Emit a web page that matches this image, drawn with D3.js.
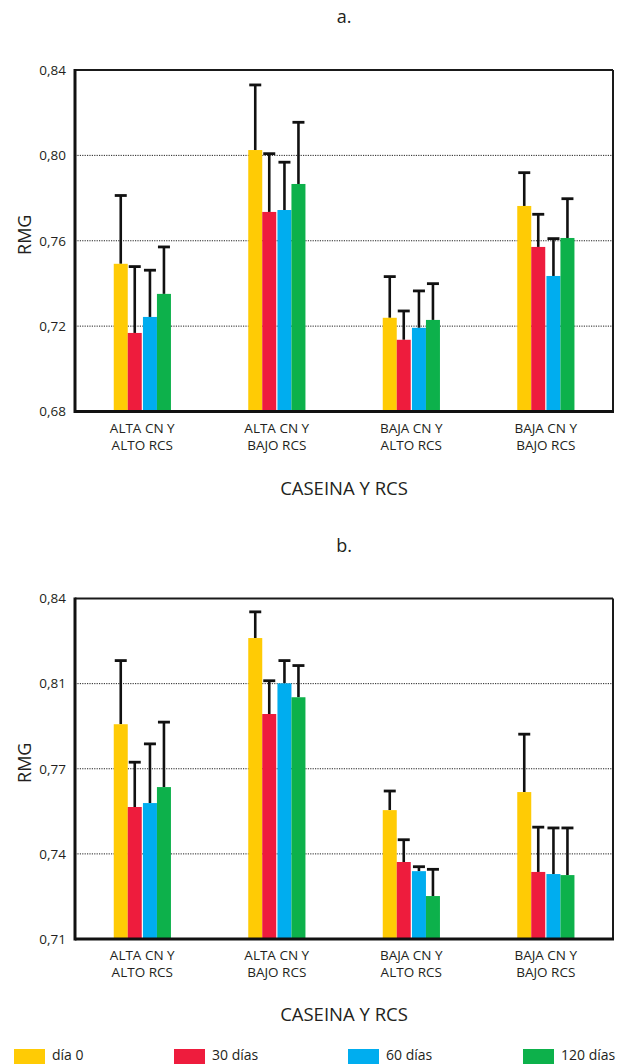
<!DOCTYPE html>
<html><head><meta charset="utf-8">
<script src="https://cdn.jsdelivr.net/npm/d3@7"></script>
<style>body{margin:0;background:#fff}svg{display:block}text{font-family:"Open Sans","Noto Sans",sans-serif;fill:#231f20}</style>
</head><body><svg id="c" width="618" height="1064"></svg>
<script>
const categories = [["ALTA CN Y","ALTO RCS"],["ALTA CN Y","BAJO RCS"],["BAJA CN Y","ALTO RCS"],["BAJA CN Y","BAJO RCS"]];
const series = ["día 0","30 días","60 días","120 días"];
const colors = ["#FFCB05","#EE1C3D","#00ADEF","#0DB14B"];
// panel a: means and upper error limits, [category][series]
const meansA = [[0.7492,0.7168,0.7243,0.7351],[0.8025,0.7735,0.7744,0.7866],[0.7239,0.7136,0.7192,0.7229],[0.7763,0.7571,0.7435,0.7613]];
const upperA = [[0.7812,0.7479,0.7462,0.7571],[0.8330,0.8008,0.7968,0.8155],[0.7432,0.7271,0.7365,0.7399],[0.7919,0.7724,0.7610,0.7797]];
const ticksA = [0.68,0.72,0.76,0.80,0.84];
const tickLabelsA = ["0,68","0,72","0,76","0,80","0,84"];
// panel b
const meansB = [[0.7920,0.7604,0.7619,0.7680],[0.8249,0.7959,0.8076,0.8023],[0.7592,0.7394,0.7359,0.7264],[0.7661,0.7356,0.7348,0.7344]];
const upperB = [[0.8163,0.7775,0.7845,0.7928],[0.8349,0.8086,0.8163,0.8144],[0.7665,0.7479,0.7376,0.7366],[0.7882,0.7527,0.7524,0.7524]];
const ticksB = [0.71,0.7425,0.775,0.8075,0.84];
const tickLabelsB = ["0,71","0,74","0,77","0,81","0,84"];

const svg = d3.select("#c");
const L = 75, R = 613;

function panel(title, titleY, top, bottom, means, upper, ticks, tickLabels, labY, axTitleY){
  const y = d3.scaleLinear().domain([ticks[0], ticks[ticks.length-1]]).range([bottom, top]);
  const x0 = d3.scaleBand().domain(d3.range(categories.length)).range([L, R]).padding(0);
  const x1 = d3.scaleBand().domain(series).range([-28.5, 27.5]);
  const g = svg.append("g");
  g.append("text").attr("x",(L+R)/2).attr("y",titleY).attr("text-anchor","middle").style("font-size","18px").text(title);
  // grid
  g.selectAll(".grid").data(ticks.slice(1,-1)).join("line")
    .attr("x1",L).attr("x2",R).attr("y1",d=>y(d)).attr("y2",d=>y(d))
    .attr("stroke","#222").attr("stroke-width",1).attr("stroke-dasharray","1.2,1.2");
  // y axis labels
  const ax = d3.axisLeft(y).tickValues(ticks).tickSize(0).tickPadding(9).tickFormat((d,i)=>tickLabels[i]);
  const ag = g.append("g").attr("transform",`translate(${L},0)`).call(ax);
  ag.select(".domain").remove();
  ag.selectAll("text").style("font-size","13.5px").style("font-family",'"Open Sans",sans-serif').attr("fill","#231f20");
  // bars
  categories.forEach((c,ci)=>{
    const cx = x0(ci) + x0.bandwidth()/2;
    series.forEach((s,si)=>{
      const bx = cx + x1(s) + (si>=2?1.2:0);
      const w = x1.bandwidth();
      const mc = bx + w/2;
      // error bar
      g.append("line").attr("x1",mc).attr("x2",mc).attr("y1",y(means[ci][si])).attr("y2",y(upper[ci][si]))
        .attr("stroke","#111").attr("stroke-width",2.6);
      g.append("line").attr("x1",mc-6).attr("x2",mc+6).attr("y1",y(upper[ci][si])).attr("y2",y(upper[ci][si]))
        .attr("stroke","#111").attr("stroke-width",2.8);
      g.append("rect").attr("x",bx).attr("width",w).attr("y",y(means[ci][si])).attr("height",bottom-y(means[ci][si]))
        .attr("fill",colors[si]);
    });
    const t = g.append("text").attr("x",cx).attr("y",labY).attr("text-anchor","middle").style("font-size","13.5px");
    t.append("tspan").attr("x",cx).attr("dy",0).text(c[0]);
    t.append("tspan").attr("x",cx).attr("dy",16.5).text(c[1]);
  });
  // frame
  g.append("line").attr("x1",L).attr("x2",R).attr("y1",top).attr("y2",top).attr("stroke","#1a1a1a").attr("stroke-width",2);
  g.append("line").attr("x1",R).attr("x2",R).attr("y1",top).attr("y2",bottom).attr("stroke","#1a1a1a").attr("stroke-width",2);
  g.append("line").attr("x1",L).attr("x2",R+1).attr("y1",bottom).attr("y2",bottom).attr("stroke","#111").attr("stroke-width",3);
  g.append("line").attr("x1",L).attr("x2",L).attr("y1",top-1).attr("y2",bottom+1.5).attr("stroke","#111").attr("stroke-width",3);
  g.append("text").attr("transform",`translate(31,${(top+bottom)/2 - 6}) rotate(-90)`).attr("text-anchor","middle")
    .style("font-size","18px").text("RMG");
  g.append("text").attr("x",(L+R)/2).attr("y",axTitleY).attr("text-anchor","middle").style("font-size","18.5px").text("CASEINA Y RCS");
}

panel("a.", 23, 70, 411.5, meansA, upperA, ticksA, tickLabelsA, 433, 495);
panel("b.", 552, 598.5, 939, meansB, upperB, ticksB, tickLabelsB, 960, 1021);

// legend
const legX = [14, 174, 348, 523];
series.forEach((s,i)=>{
  svg.append("rect").attr("x",legX[i]).attr("y",1049).attr("width",31).attr("height",15).attr("fill",colors[i]);
  svg.append("text").attr("x",legX[i]+38).attr("y",1060).style("font-size","14px").text(s);
});
</script></body></html>
